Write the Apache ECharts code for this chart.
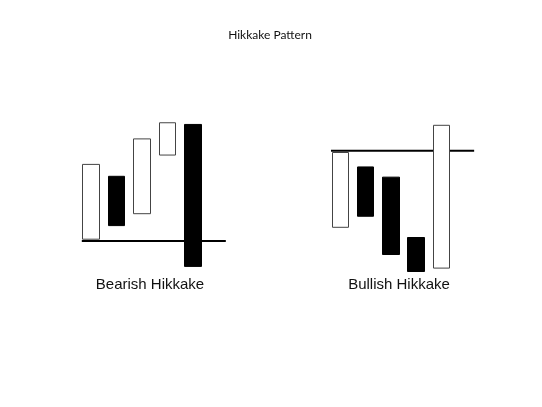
<!DOCTYPE html>
<html>
<head>
<meta charset="utf-8">
<script src="https://cdn.jsdelivr.net/npm/echarts@6/dist/echarts.min.js"></script>
<style>
  html, body { margin: 0; padding: 0; background: #fff; }
  #chart { width: 542px; height: 407px; }
</style>
</head>
<body>
<div id="chart"></div>
<script>
// candle slots (last slot left empty so the level line has room)
const slots = ['1', '2', '3', '4', '5', ''];

// Bearish Hikkake: open / close per candle
const bearOpen = [24, 61, 39, 73.5, 91.5];
const bearClose = [68, 32, 83, 92.5, 8];
const bearLevel = 23;

// Bullish Hikkake: open / close per candle
const bullOpen = [31, 66.5, 60.5, 25, 7];
const bullClose = [75, 37.5, 15, 5, 91];
const bullLevel = 76;

// where the support / resistance line starts and ends (in candle index units)
const levelSpan = [-0.37, 5.3];

function toCandles(open, close) {
  return open.map((o, i) => {
    const c = close[i];
    return [o, c, Math.min(o, c), Math.max(o, c)];
  });
}

function levelLine(value) {
  return levelSpan.map(x => [x, value]);
}

const candleStyle = {
  color: '#fff',
  color0: '#000',
  borderColor: '#444',
  borderColor0: '#000',
  borderWidth: 1
};

const chart = echarts.init(document.getElementById('chart'));

chart.setOption({
  animation: false,
  backgroundColor: '#fff',
  title: [
    {
      text: 'Hikkake Pattern',
      left: 270,
      top: 29,
      padding: 0,
      textAlign: 'center',
      textStyle: { fontFamily: 'Lato', fontSize: 12, fontWeight: 'normal', color: '#111' }
    },
    {
      text: 'Bearish Hikkake',
      left: 150,
      top: 277,
      padding: 0,
      textAlign: 'center',
      textStyle: { fontFamily: 'Liberation Sans', fontSize: 15, fontWeight: 'normal', color: '#111' }
    },
    {
      text: 'Bullish Hikkake',
      left: 399,
      top: 277,
      padding: 0,
      textAlign: 'center',
      textStyle: { fontFamily: 'Liberation Sans', fontSize: 15, fontWeight: 'normal', color: '#111' }
    }
  ],
  grid: [
    { left: 78.5, top: 110, width: 152.4, height: 170 },
    { left: 327.7, top: 110, width: 151.5, height: 170 }
  ],
  xAxis: [
    { type: 'category', gridIndex: 0, data: slots, show: false },
    { type: 'category', gridIndex: 1, data: slots, show: false },
    { type: 'value', gridIndex: 0, min: -0.5, max: 5.5, show: false },
    { type: 'value', gridIndex: 1, min: -0.5, max: 5.5, show: false }
  ],
  yAxis: [
    { type: 'value', gridIndex: 0, min: 0, max: 100, show: false },
    { type: 'value', gridIndex: 1, min: 0, max: 100, show: false }
  ],
  series: [
    {
      type: 'candlestick',
      xAxisIndex: 0,
      yAxisIndex: 0,
      barWidth: 17,
      itemStyle: candleStyle,
      data: toCandles(bearOpen, bearClose)
    },
    {
      type: 'candlestick',
      xAxisIndex: 1,
      yAxisIndex: 1,
      barWidth: 17,
      itemStyle: candleStyle,
      data: toCandles(bullOpen, bullClose)
    },
    {
      type: 'line',
      xAxisIndex: 2,
      yAxisIndex: 0,
      symbol: 'none',
      lineStyle: { color: '#000', width: 2 },
      data: levelLine(bearLevel),
      z: 1
    },
    {
      type: 'line',
      xAxisIndex: 3,
      yAxisIndex: 1,
      symbol: 'none',
      lineStyle: { color: '#000', width: 2 },
      data: levelLine(bullLevel),
      z: 1
    }
  ]
});
</script>
</body>
</html>
